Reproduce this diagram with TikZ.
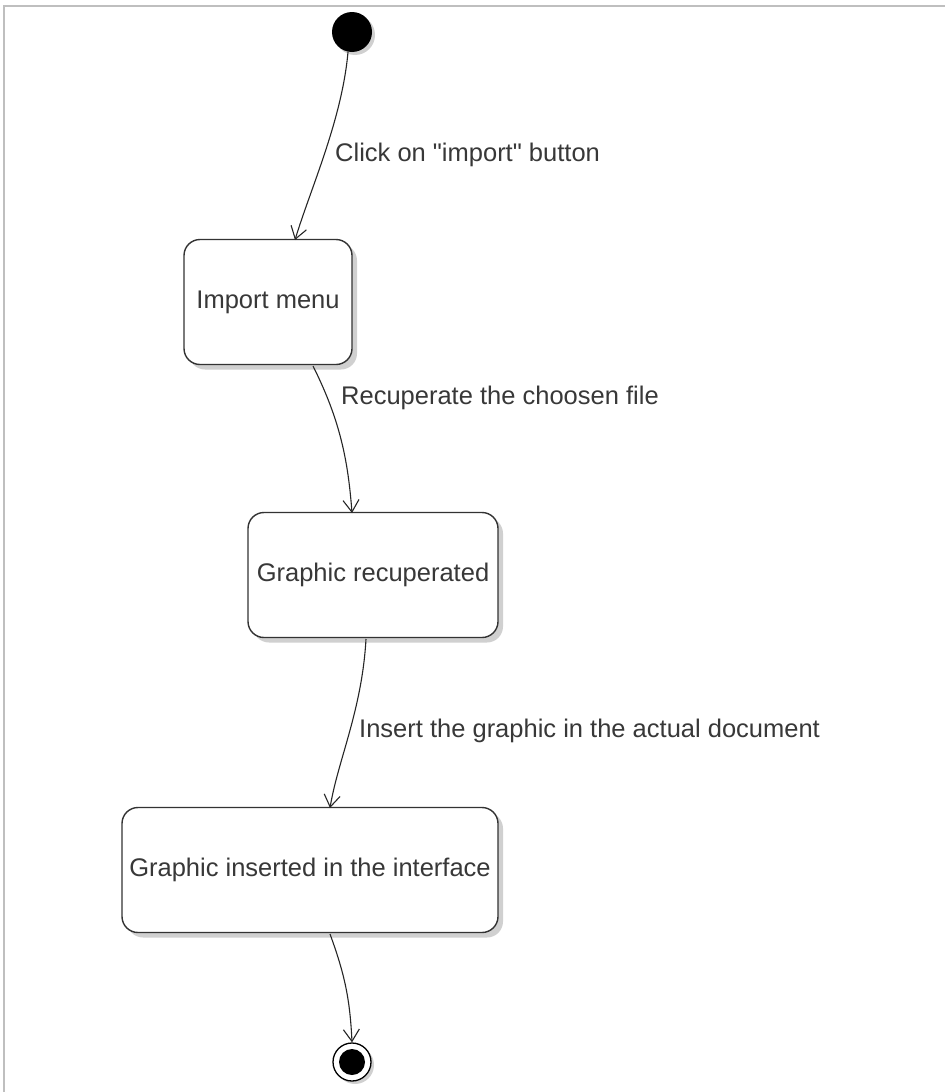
\documentclass[tikz,border=0pt]{standalone}
\usepackage{fontspec}
\setmainfont{Liberation Sans}[Ligatures=TeXOff]
\usetikzlibrary{arrows.meta,shadows}
\begin{document}
\begin{tikzpicture}[x=1pt,y=-1pt,
  state/.style={draw=black!80,line width=1.4pt,rounded corners=16pt,fill=white,
    drop shadow={shadow xshift=5pt,shadow yshift=-5pt,fill=black!30,opacity=0.6},
    font=\fontsize{25.5}{30}\selectfont,text=black!78,inner sep=0pt},
  trans/.style={draw=black!85,line width=1.1pt,-{Straight Barb[length=12pt,width=16pt,line width=1.1pt]}},
  lbl/.style={font=\fontsize{25.5}{30}\selectfont,text=black!78,anchor=west,inner sep=0pt}]
\useasboundingbox (0,0) rectangle (945,1092);
\fill[white] (0,0) rectangle (945,1092);
\draw[black!25,line width=1.5pt] (4,1092) -- (4,6) -- (945,6);
% initial
\node[circle,fill=black,minimum size=40pt,inner sep=0pt,
  drop shadow={shadow xshift=3pt,shadow yshift=-3pt,fill=black!30,opacity=0.6}] (init) at (352,32) {};
% states
\node[state,minimum width=168pt,minimum height=125pt] (s1) at (268,302) {Import menu};
\node[state,minimum width=250pt,minimum height=125pt] (s2) at (373,575) {Graphic recuperated};
\node[state,minimum width=376pt,minimum height=125pt] (s3) at (310,870) {Graphic inserted in the interface};
% final
\node[circle,draw=black,line width=1.3pt,fill=white,minimum size=38pt,inner sep=0pt,
  drop shadow={shadow xshift=3pt,shadow yshift=-3pt,fill=black!30,opacity=0.6}] (fin) at (352,1062) {};
\node[circle,fill=black,minimum size=26pt,inner sep=0pt] (finin) at (fin) {};
% transitions
\coordinate (a1) at (348,52);
\coordinate (b1) at (295,240);
\draw[trans] (a1) .. controls (342,120) and (310,190) .. (b1);
\node[lbl] (l1) at (335,155) {Click on "import" button};
\coordinate (a2) at (313,366);
\coordinate (b2) at (352,513);
\draw[trans] (a2) .. controls (340,420) and (348,460) .. (b2);
\node[lbl] (l2) at (341,398) {Recuperate the choosen file};
\coordinate (a3) at (366,639);
\coordinate (b3) at (330,808);
\draw[trans] (a3) .. controls (362,710) and (338,760) .. (b3);
\node[lbl] (l3) at (359,731) {Insert the graphic in the actual document};
\coordinate (a4) at (330,934);
\draw[trans] (a4) .. controls (345,975) and (350,1000) .. (fin.north);
\end{tikzpicture}
\end{document}
